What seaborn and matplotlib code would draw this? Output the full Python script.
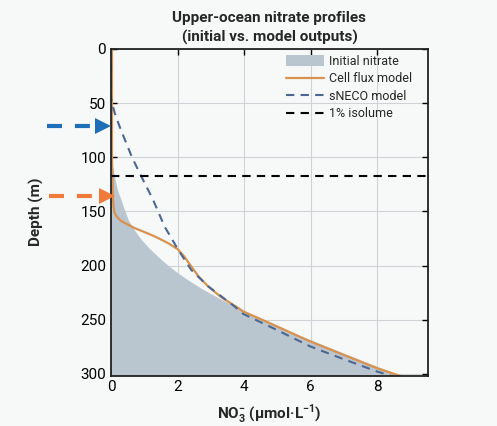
import matplotlib
matplotlib.use("Agg")
import matplotlib.pyplot as plt
import seaborn as sns
import pandas as pd
from matplotlib.patches import Patch
from matplotlib.lines import Line2D

# initial nitrate profile (shaded)
init_depth = [0, 98, 105, 112, 120, 130, 139, 148, 158, 167, 176, 184, 192, 200, 207, 214, 221,
              231, 239, 244, 256, 268, 280, 293, 302]
init_no3 = [0, 0, 0.03, 0.07, 0.12, 0.19, 0.3, 0.4, 0.52, 0.7, 0.91, 1.15, 1.42, 1.72, 2.01, 2.35, 2.71,
            3.3, 3.8, 4.12, 4.98, 5.95, 6.92, 7.98, 8.72]

# cell flux model
cell_depth = [0, 100, 139, 146, 151.6, 155, 159, 162, 165.4, 169, 173, 179, 185, 192, 200.8, 210, 219,
              229, 239, 242.3, 255, 270, 282, 294.6, 302.9]
cell_no3 = [0.03, 0.03, 0.06, 0.08, 0.11, 0.18, 0.31, 0.5, 0.71, 1.0, 1.31, 1.7, 2.01, 2.21, 2.41, 2.63, 2.91,
            3.3, 3.81, 3.97, 4.9, 5.98, 6.95, 7.98, 8.78]

# sNECO model
sneco_depth = [0, 45, 50, 60, 75, 90, 100, 117, 139, 164, 185, 204, 219, 237.7, 244.6, 259, 274.6,
               286, 297.7, 302.6]
sneco_no3 = [0, 0, 0.03, 0.12, 0.3, 0.5, 0.63, 0.9, 1.26, 1.61, 2.01, 2.41, 2.91, 3.71, 3.97, 4.95, 5.98,
             6.95, 7.98, 8.48]

isolume_depth = 117
arrow_depths = {"sneco": 71, "cell": 136}

bg = "#f7f9f9"
c_init = "#b9c5cf"
c_cell = "#d8924e"
c_sneco = "#4c6791"

sns.set_theme(style="ticks")
plt.rcParams["font.family"] = ["Roboto", "DejaVu Sans"]
plt.rcParams["mathtext.fontset"] = "custom"
plt.rcParams["mathtext.rm"] = "Roboto"
plt.rcParams["mathtext.bf"] = "Roboto:bold"

fig = plt.figure(figsize=(4.97, 4.26), dpi=100, facecolor=bg)
ax = fig.add_axes([111 / 497, 1 - 375.5 / 426, 317 / 497, 326.5 / 426])
ax.set_facecolor(bg)

ax.fill_betweenx(init_depth, 0, init_no3, color=c_init, lw=0, zorder=1)

cell = pd.DataFrame({"no3": cell_no3, "depth": cell_depth})
sneco = pd.DataFrame({"no3": sneco_no3, "depth": sneco_depth})
sns.lineplot(data=cell, x="no3", y="depth", orient="y", color=c_cell, lw=1.6, ax=ax, zorder=3)
sns.lineplot(data=sneco, x="no3", y="depth", orient="y", color=c_sneco, lw=1.5,
             ax=ax, zorder=4)
ax.lines[-1].set_dashes((4, 3))

ax.axhline(isolume_depth, color="black", lw=1.5, ls=(0, (4, 3)), zorder=5)

ax.set_xlim(0, 9.52)
ax.set_ylim(301.5, 0)
ax.set_xticks([0, 2, 4, 6, 8])
ax.set_yticks([0, 50, 100, 150, 200, 250, 300])
ax.grid(True, color="#cfd3d6", lw=0.8, zorder=0)
ax.tick_params(direction="in", top=True, right=True, length=4, width=1, labelsize=11, colors="black")
for s in ax.spines.values():
    s.set_color("#222222")
    s.set_linewidth(1.3)
    s.set_zorder(6)

# dashed arrows outside the axes on the left
for key, col, x0, x1, xtip in [("sneco", "#1f6fb8", -1.93, -0.63, -0.23),
                               ("cell", "#f07a3a", -1.85, -0.53, -0.12)]:
    d = arrow_depths[key]
    ax.plot([x0, x1], [d, d], color=col, lw=3, ls=(0, (3.6, 3.1)), clip_on=False,
            solid_capstyle="butt", dash_capstyle="butt", zorder=7)
    ax.plot([xtip], [d], marker=">", color=col, ms=11, mew=0, clip_on=False, zorder=7, lw=0)

ax.set_title("Upper-ocean nitrate profiles\n(initial vs. model outputs)", fontsize=11,
             fontweight="bold", pad=5, linespacing=1.45)
ax.set_xlabel(r"NO$_\mathbf{3}^\mathbf{-}$ (µmol·L$^\mathbf{-1}$)", fontsize=11, fontweight="bold", labelpad=6)
ax.set_ylabel("Depth (m)", fontsize=11, fontweight="bold", labelpad=26)

handles = [
    Patch(facecolor=c_init, edgecolor="none", label="Initial nitrate"),
    Line2D([], [], color=c_cell, lw=1.6, label="Cell flux model"),
    Line2D([], [], color=c_sneco, lw=1.5, dashes=(4, 3), label="sNECO model"),
    Line2D([], [], color="black", lw=1.5, dashes=(4, 3), label="1% isolume"),
]
ax.legend(handles=handles, loc="upper right", bbox_to_anchor=(0.965, 0.997), frameon=False,
          fontsize=9, handlelength=3.0, handleheight=0.9, handletextpad=0.4,
          labelspacing=0.36, borderaxespad=0)

fig.savefig("out.png", dpi=100, facecolor=bg)
